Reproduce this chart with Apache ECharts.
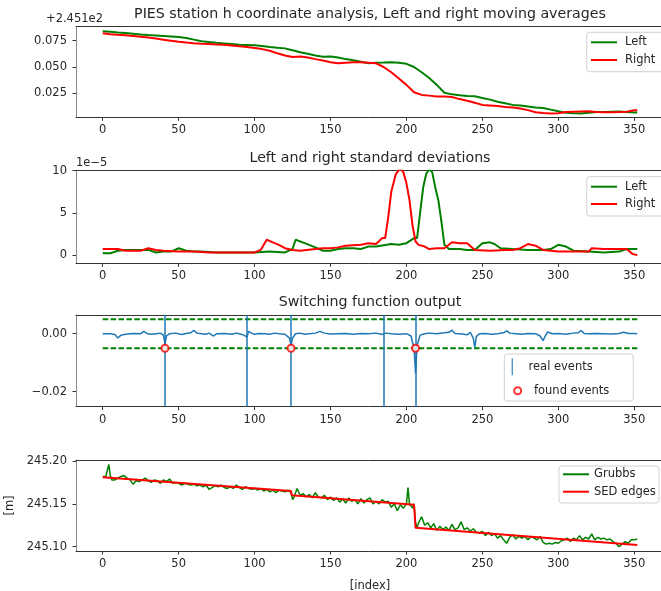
<!DOCTYPE html>
<html>
<head>
<meta charset="utf-8">
<script src="https://cdn.jsdelivr.net/npm/echarts@6/dist/echarts.min.js"></script>
<style>html,body{margin:0;padding:0;background:#fff}#c{width:661px;height:591px}</style>
</head>
<body>
<div id="c"></div>
<script>
// ---------- data ----------
const xTicks = [0, 50, 100, 150, 200, 250, 300, 350];
const meanTicks = [0.025, 0.050, 0.075];
const stdTicks = [0, 5, 10];
const switchTicks = [-0.02, 0.00];
const heightTicks = [245.10, 245.15, 245.20];

// moving averages (offset from 245.1)
const leftMean = [[0,0.0840],[5,0.0835],[10,0.0828],[15,0.0822],[20,0.0815],[25,0.0808],[30,0.0803],[35,0.0800],[40,0.0795],[45,0.0790],[50,0.0785],[55,0.0775],[60,0.0760],[65,0.0745],[70,0.0737],[75,0.0730],[80,0.0724],[85,0.0718],[90,0.0712],[95,0.0710],[100,0.0707],[105,0.0700],[110,0.0690],[115,0.0683],[120,0.0677],[125,0.0660],[130,0.0640],[135,0.0625],[140,0.0610],[145,0.0598],[150,0.0600],[155,0.0590],[160,0.0575],[165,0.0565],[170,0.0550],[175,0.0535],[180,0.0540],[185,0.0542],[190,0.0545],[195,0.0540],[200,0.0530],[205,0.0500],[210,0.0450],[215,0.0395],[220,0.0330],[225,0.0255],[230,0.0240],[235,0.0232],[240,0.0225],[245,0.0222],[250,0.0205],[255,0.0190],[260,0.0170],[265,0.0155],[270,0.0140],[275,0.0135],[280,0.0125],[285,0.0115],[290,0.0110],[295,0.0095],[300,0.0080],[305,0.0065],[310,0.0060],[315,0.0058],[320,0.0065],[325,0.0072],[330,0.0073],[335,0.0075],[340,0.0077],[345,0.0073],[350,0.0068],[352,0.0068]];
const rightMean = [[0,0.0820],[5,0.0812],[10,0.0806],[15,0.0802],[20,0.0795],[25,0.0788],[30,0.0780],[35,0.0770],[40,0.0760],[45,0.0750],[50,0.0740],[55,0.0732],[60,0.0725],[65,0.0720],[70,0.0718],[75,0.0715],[80,0.0712],[85,0.0705],[90,0.0698],[95,0.0690],[100,0.0680],[105,0.0670],[110,0.0655],[115,0.0630],[120,0.0610],[125,0.0595],[130,0.0600],[135,0.0590],[140,0.0575],[145,0.0562],[150,0.0545],[155,0.0535],[160,0.0540],[165,0.0545],[170,0.0545],[175,0.0540],[180,0.0535],[185,0.0500],[190,0.0450],[195,0.0390],[200,0.0330],[205,0.0260],[210,0.0235],[215,0.0228],[220,0.0220],[225,0.0220],[230,0.0215],[235,0.0195],[240,0.0180],[245,0.0160],[250,0.0140],[255,0.0135],[260,0.0130],[265,0.0120],[270,0.0115],[275,0.0105],[280,0.0090],[285,0.0070],[290,0.0062],[295,0.0058],[300,0.0060],[305,0.0072],[310,0.0075],[315,0.0078],[320,0.0080],[325,0.0073],[330,0.0070],[335,0.0070],[340,0.0072],[345,0.0075],[350,0.0088],[352,0.0088]];

// standard deviations (x 1e-5)
const leftStd = [[0,0.2],[5,0.2],[10,0.5],[15,0.6],[20,0.6],[25,0.6],[30,0.6],[35,0.3],[40,0.4],[45,0.4],[50,0.8],[55,0.5],[60,0.4],[65,0.4],[75,0.3],[85,0.3],[100,0.3],[110,0.4],[120,0.3],[125,0.7],[127,1.8],[133,1.4],[140,0.9],[145,0.5],[150,0.5],[155,0.7],[160,0.8],[165,0.8],[170,0.7],[175,1.0],[180,1.0],[190,1.3],[195,1.2],[200,1.4],[205,2.0],[207,2.0],[209,5.0],[211,8.0],[213,9.6],[215,10.2],[217,9.8],[219,8.0],[221,6.5],[223,4.0],[225,1.2],[228,0.7],[235,0.7],[240,0.6],[245,0.6],[250,1.4],[255,1.5],[258,1.3],[262,0.8],[270,0.7],[280,0.6],[290,0.6],[295,0.7],[300,1.2],[305,1.0],[310,0.5],[320,0.4],[330,0.3],[340,0.4],[345,0.7],[352,0.7]];
const rightStd = [[0,0.7],[10,0.7],[15,0.5],[20,0.5],[25,0.5],[30,0.8],[35,0.6],[40,0.5],[50,0.4],[60,0.4],[70,0.3],[80,0.3],[90,0.3],[100,0.3],[104,0.6],[108,1.8],[112,1.5],[116,1.2],[120,0.8],[125,0.6],[130,0.5],[140,0.7],[145,0.8],[150,0.8],[155,0.9],[160,1.1],[170,1.2],[175,1.4],[180,1.3],[184,2.0],[186,2.0],[188,4.5],[190,7.5],[193,9.6],[196,10.3],[198,9.8],[200,8.5],[202,6.5],[204,3.5],[206,1.6],[208,1.2],[212,1.0],[215,0.7],[220,0.8],[225,0.8],[230,1.5],[235,1.4],[240,1.4],[245,0.6],[255,0.5],[265,0.6],[270,0.6],[275,0.8],[280,1.3],[285,1.1],[290,0.6],[300,0.4],[310,0.4],[320,0.4],[322,0.8],[330,0.7],[340,0.7],[345,0.7],[349,0.1],[352,0.0]];

// switching function output
const switchOut = [[0,0],[5,0],[8,-0.0003],[10,-0.0015],[12,-0.0005],[15,-0.0002],[20,0.0001],[25,0],[27,0.0008],[29,0.0001],[32,-0.0002],[35,0],[38,0.0002],[40,-0.0005],[41,-0.0035],[42,-0.0008],[44,0],[48,0.0002],[52,-0.0003],[55,0.0001],[58,0.0003],[60,0.0012],[62,0.0002],[65,0],[68,-0.0002],[70,0.0002],[73,-0.0008],[75,0],[80,0.0001],[85,-0.0002],[88,0.0002],[90,0],[93,-0.0005],[95,-0.0012],[96,0.0008],[98,0.0002],[100,-0.0002],[103,0.0001],[107,0],[110,-0.0002],[113,0.0002],[116,0],[120,-0.0002],[123,-0.0015],[124,-0.004],[125,-0.0015],[127,0],[130,0.0002],[133,-0.0002],[136,0],[140,0.0002],[143,0.0008],[146,0.0002],[150,-0.0001],[155,0],[160,0.0001],[165,-0.0002],[170,0.0001],[175,0],[180,0.0002],[184,-0.0003],[186,0.0002],[190,0],[195,-0.0002],[200,0],[203,-0.0008],[205,-0.005],[206,-0.0137],[207,-0.004],[209,-0.0005],[212,0],[215,0.0002],[220,0],[225,0.0003],[228,0.0005],[230,0.0012],[232,0.0001],[235,0],[238,-0.0002],[240,-0.0004],[242,0.0005],[244,-0.0015],[245,-0.0047],[246,-0.001],[248,0],[252,0.0001],[256,-0.0002],[260,0],[264,0.0003],[266,0.001],[268,0.0002],[272,0],[276,-0.0002],[280,0.0001],[285,0],[288,-0.0008],[290,-0.0024],[291,-0.0012],[293,0.0006],[296,0],[300,0.0001],[305,-0.0002],[310,0.0002],[313,0.0003],[315,0.0011],[317,0.0001],[320,0],[325,0.0001],[330,0],[335,-0.0001],[340,0.0001],[343,0.0005],[346,0.0001],[350,0.0001],[352,0]];
const upperThreshold = [[0,0.005],[352,0.005]];
const lowerThreshold = [[0,-0.005],[352,-0.005]];
const realEvents = [41, 95, 124, 185, 206];
const foundEvents = [[41,-0.005],[124,-0.005],[206,-0.005]];

// heights [m]
const grubbs = [[0,245.182],[2,245.182],[3,245.183],[4,245.196],[5,245.183],[6,245.178],[7,245.180],[8,245.178],[10,245.180],[12,245.182],[14,245.183],[16,245.180],[18,245.178],[20,245.173],[22,245.177],[24,245.176],[26,245.178],[28,245.180],[30,245.177],[32,245.175],[34,245.178],[36,245.177],[38,245.174],[40,245.178],[42,245.176],[44,245.179],[46,245.174],[48,245.175],[50,245.174],[52,245.172],[54,245.174],[56,245.173],[58,245.172],[60,245.173],[62,245.171],[64,245.172],[66,245.170],[68,245.172],[70,245.167],[72,245.169],[74,245.171],[76,245.170],[78,245.172],[80,245.169],[82,245.168],[84,245.170],[86,245.168],[88,245.172],[90,245.169],[92,245.167],[94,245.170],[96,245.168],[98,245.167],[100,245.168],[102,245.166],[104,245.168],[106,245.165],[108,245.167],[110,245.164],[112,245.166],[114,245.163],[116,245.166],[118,245.165],[120,245.164],[122,245.166],[124,245.163],[125,245.155],[126,245.158],[128,245.168],[130,245.160],[132,245.162],[134,245.158],[136,245.161],[138,245.157],[140,245.163],[142,245.158],[144,245.157],[146,245.160],[148,245.155],[150,245.158],[152,245.154],[154,245.157],[156,245.152],[158,245.156],[160,245.151],[162,245.157],[164,245.153],[166,245.155],[168,245.150],[170,245.156],[172,245.151],[174,245.155],[176,245.157],[178,245.150],[180,245.153],[182,245.150],[184,245.155],[186,245.152],[188,245.153],[190,245.146],[192,245.150],[194,245.142],[196,245.149],[198,245.145],[200,245.150],[201,245.169],[202,245.150],[204,245.145],[205,245.150],[206,245.128],[207,245.122],[208,245.128],[210,245.135],[212,245.125],[214,245.128],[216,245.122],[218,245.127],[220,245.119],[222,245.124],[224,245.120],[226,245.123],[228,245.119],[230,245.126],[232,245.120],[234,245.122],[236,245.129],[238,245.120],[240,245.122],[242,245.118],[244,245.121],[246,245.117],[248,245.116],[250,245.118],[252,245.113],[254,245.117],[256,245.113],[258,245.115],[260,245.110],[262,245.113],[264,245.108],[266,245.104],[268,245.111],[270,245.114],[272,245.109],[274,245.112],[276,245.110],[278,245.112],[280,245.108],[282,245.112],[284,245.110],[286,245.108],[288,245.112],[290,245.105],[292,245.103],[294,245.104],[296,245.103],[298,245.105],[300,245.104],[302,245.107],[304,245.108],[306,245.110],[308,245.106],[310,245.110],[312,245.108],[314,245.113],[316,245.108],[318,245.111],[320,245.109],[322,245.115],[324,245.108],[326,245.111],[328,245.109],[330,245.110],[332,245.108],[334,245.109],[336,245.106],[338,245.104],[340,245.100],[342,245.103],[344,245.106],[346,245.104],[348,245.108],[350,245.108],[352,245.109]];
const sedEdges = [[0,245.181],[124,245.165],[124.5,245.160],[205,245.149],[206,245.122],[352,245.102]];

// ---------- layout ----------
const FONT = 'DejaVu Sans';
const TXT = '#262626';
const GREEN = '#008000', RED = '#ff0000', BLUE = '#1f77b4';
const X_MIN = -17.6, X_MAX = 369.6;
const grids = [
  {left: 76, top: 26.7, width: 588, height: 90.6},
  {left: 76, top: 170.7, width: 588, height: 92.6},
  {left: 76, top: 315, width: 588, height: 91.7},
  {left: 76, top: 460, width: 588, height: 91}
];
const yRanges = [[0.0022, 0.0883], [-0.99, 10.0], [-0.02517, 0.00645], [245.095, 245.2012]];
const yTickSets = [meanTicks, stdTicks, switchTicks, heightTicks];
const yFormat = [
  v => v.toFixed(3),
  v => String(Math.round(v)),
  v => (v < -1e-9 ? '\u2212' + Math.abs(v).toFixed(2) : '0.00'),
  v => v.toFixed(2)
];

const xAxes = [], yAxes = [];
grids.forEach((g, i) => {
  xAxes.push({
    type: 'value', gridIndex: i, min: X_MIN, max: X_MAX, position: 'bottom',
    axisLine: {show: true, onZero: false, lineStyle: {color: '#333', width: 1}},
    axisTick: {show: true, customValues: xTicks, length: 3.5, lineStyle: {color: '#333'}},
    axisLabel: {show: true, customValues: xTicks, margin: 7, color: TXT, fontFamily: FONT, fontSize: 11.5, formatter: v => String(v)},
    splitLine: {show: false},
    name: i === 3 ? '[index]' : '', nameLocation: 'middle', nameGap: 29,
    nameTextStyle: {color: TXT, fontFamily: FONT, fontSize: 11.5}
  });
  yAxes.push({
    type: 'value', gridIndex: i, min: yRanges[i][0], max: yRanges[i][1], position: 'left',
    axisLine: {show: true, onZero: false, lineStyle: {color: '#888', width: 1}},
    axisTick: {show: true, customValues: yTickSets[i], length: 3.5, lineStyle: {color: '#333'}},
    axisLabel: {show: true, customValues: yTickSets[i], margin: 9, color: TXT, fontFamily: FONT, fontSize: 11.5, formatter: yFormat[i]},
    splitLine: {show: false},
    name: i === 3 ? '[m]' : '', nameLocation: 'middle', nameGap: 60, nameRotate: 90,
    nameTextStyle: {color: TXT, fontFamily: FONT, fontSize: 11.5}
  });
});
grids.forEach((g, i) => {
  xAxes.push({
    type: 'value', gridIndex: i, min: X_MIN, max: X_MAX, position: 'top',
    axisLine: {show: true, onZero: false, lineStyle: {color: '#333', width: 1}},
    axisTick: {show: false}, axisLabel: {show: false}, splitLine: {show: false}
  });
});

const lineSeries = (name, data, color, gi, width) => ({
  name, type: 'line', data, xAxisIndex: gi, yAxisIndex: gi,
  showSymbol: false, symbol: 'none', animation: false, clip: true,
  lineStyle: {color, width}, itemStyle: {color}
});

const dashed = {color: GREEN, width: 2, type: [5.5, 2.4]};
const series = [
  lineSeries('Left', leftMean, GREEN, 0, 2),
  lineSeries('Right', rightMean, RED, 0, 2),
  lineSeries('Left', leftStd, GREEN, 1, 2),
  lineSeries('Right', rightStd, RED, 1, 2),
  Object.assign(lineSeries('thrU', upperThreshold, GREEN, 2, 2), {lineStyle: dashed}),
  Object.assign(lineSeries('thrL', lowerThreshold, GREEN, 2, 2), {lineStyle: dashed}),
  lineSeries('switch', switchOut, BLUE, 2, 1.5),
  {
    name: 'real events', type: 'line', data: [], xAxisIndex: 2, yAxisIndex: 2,
    itemStyle: {color: BLUE}, lineStyle: {color: BLUE},
    markLine: {
      silent: true, symbol: ['none', 'none'], animation: false,
      label: {show: false},
      lineStyle: {color: BLUE, width: 1.5, type: 'solid'},
      data: realEvents.map(x => ({xAxis: x}))
    }
  },
  {
    name: 'found events', type: 'scatter', data: foundEvents, xAxisIndex: 2, yAxisIndex: 2,
    symbol: 'emptyCircle', symbolSize: 7, z: 5,
    itemStyle: {color: RED, borderColor: RED, borderWidth: 1.5}
  },
  lineSeries('Grubbs', grubbs, GREEN, 3, 1.5),
  lineSeries('SED edges', sedEdges, RED, 3, 2)
];

const legendText = {color: TXT, fontFamily: FONT, fontSize: 11.5, lineHeight: 15};
const legends = [
  {left: 591, top: 34.8, itemGap: 2.7, data: ['Left', 'Right'], textStyle: Object.assign({padding: [0,0,0,3]}, legendText), icon: 'rect', itemWidth: 26, itemHeight: 2},
  {left: 591, top: 179.2, itemGap: 2.3, data: ['Left', 'Right'], textStyle: Object.assign({padding: [0,0,0,3]}, legendText), icon: 'rect', itemWidth: 26, itemHeight: 2},
  {left: 511.7, top: 358.2, data: [{name: 'real events', icon: 'path://M0,0h1v16h-1z'}], textStyle: Object.assign({padding: [0,0,0,6.3]}, legendText), itemWidth: 10, itemHeight: 17},
  {left: 513.2, top: 383.2, data: [{name: 'found events', icon: 'emptyCircle'}], textStyle: Object.assign({padding: [0,0,0,7.8]}, legendText), itemWidth: 7, itemHeight: 7},
  {left: 563, top: 466.8, itemGap: 2.4, data: ['Grubbs', 'SED edges'], textStyle: legendText, icon: 'rect', itemWidth: 26, itemHeight: 2}
].map(l => Object.assign({orient: 'vertical', padding: 0, selectedMode: false, z: 20}, l));

const boxStyle = {fill: 'rgba(255,255,255,0.85)', stroke: '#d0d0d0', lineWidth: 1};
const graphic = [
  {type: 'rect', z: 4, shape: {x: 586.7, y: 32.3, width: 90, height: 39.4, r: 3}, style: boxStyle},
  {type: 'rect', z: 4, shape: {x: 586.7, y: 176.7, width: 90, height: 39.3, r: 3}, style: boxStyle},
  {type: 'rect', z: 4, shape: {x: 504.3, y: 354, width: 129, height: 47, r: 3}, style: boxStyle},
  {type: 'rect', z: 4, shape: {x: 559, y: 466, width: 100, height: 37, r: 3}, style: boxStyle},
  {type: 'text', x: 370, y: 14, style: {text: 'PIES station h coordinate analysis, Left and right moving averages', font: '14.2px "DejaVu Sans"', fill: TXT, textAlign: 'center', textVerticalAlign: 'middle'}},
  {type: 'text', x: 370, y: 158, style: {text: 'Left and right standard deviations', font: '14.2px "DejaVu Sans"', fill: TXT, textAlign: 'center', textVerticalAlign: 'middle'}},
  {type: 'text', x: 370, y: 302.5, style: {text: 'Switching function output', font: '14.2px "DejaVu Sans"', fill: TXT, textAlign: 'center', textVerticalAlign: 'middle'}},
  {type: 'text', x: 46, y: 19, style: {text: '+2.451e2', font: '11.5px "DejaVu Sans"', fill: TXT, textAlign: 'left', textVerticalAlign: 'middle'}},
  {type: 'text', x: 76, y: 163.5, style: {text: '1e\u22125', font: '11.5px "DejaVu Sans"', fill: TXT, textAlign: 'left', textVerticalAlign: 'middle'}}
];

const chart = echarts.init(document.getElementById('c'), null, {renderer: 'canvas'});
chart.setOption({
  animation: false,
  backgroundColor: '#fff',
  grid: grids.map(g => Object.assign({containLabel: false, outerBoundsMode: 'none'}, g)),
  xAxis: xAxes,
  yAxis: yAxes,
  legend: legends,
  graphic: {elements: graphic},
  series
});
</script>
</body>
</html>
